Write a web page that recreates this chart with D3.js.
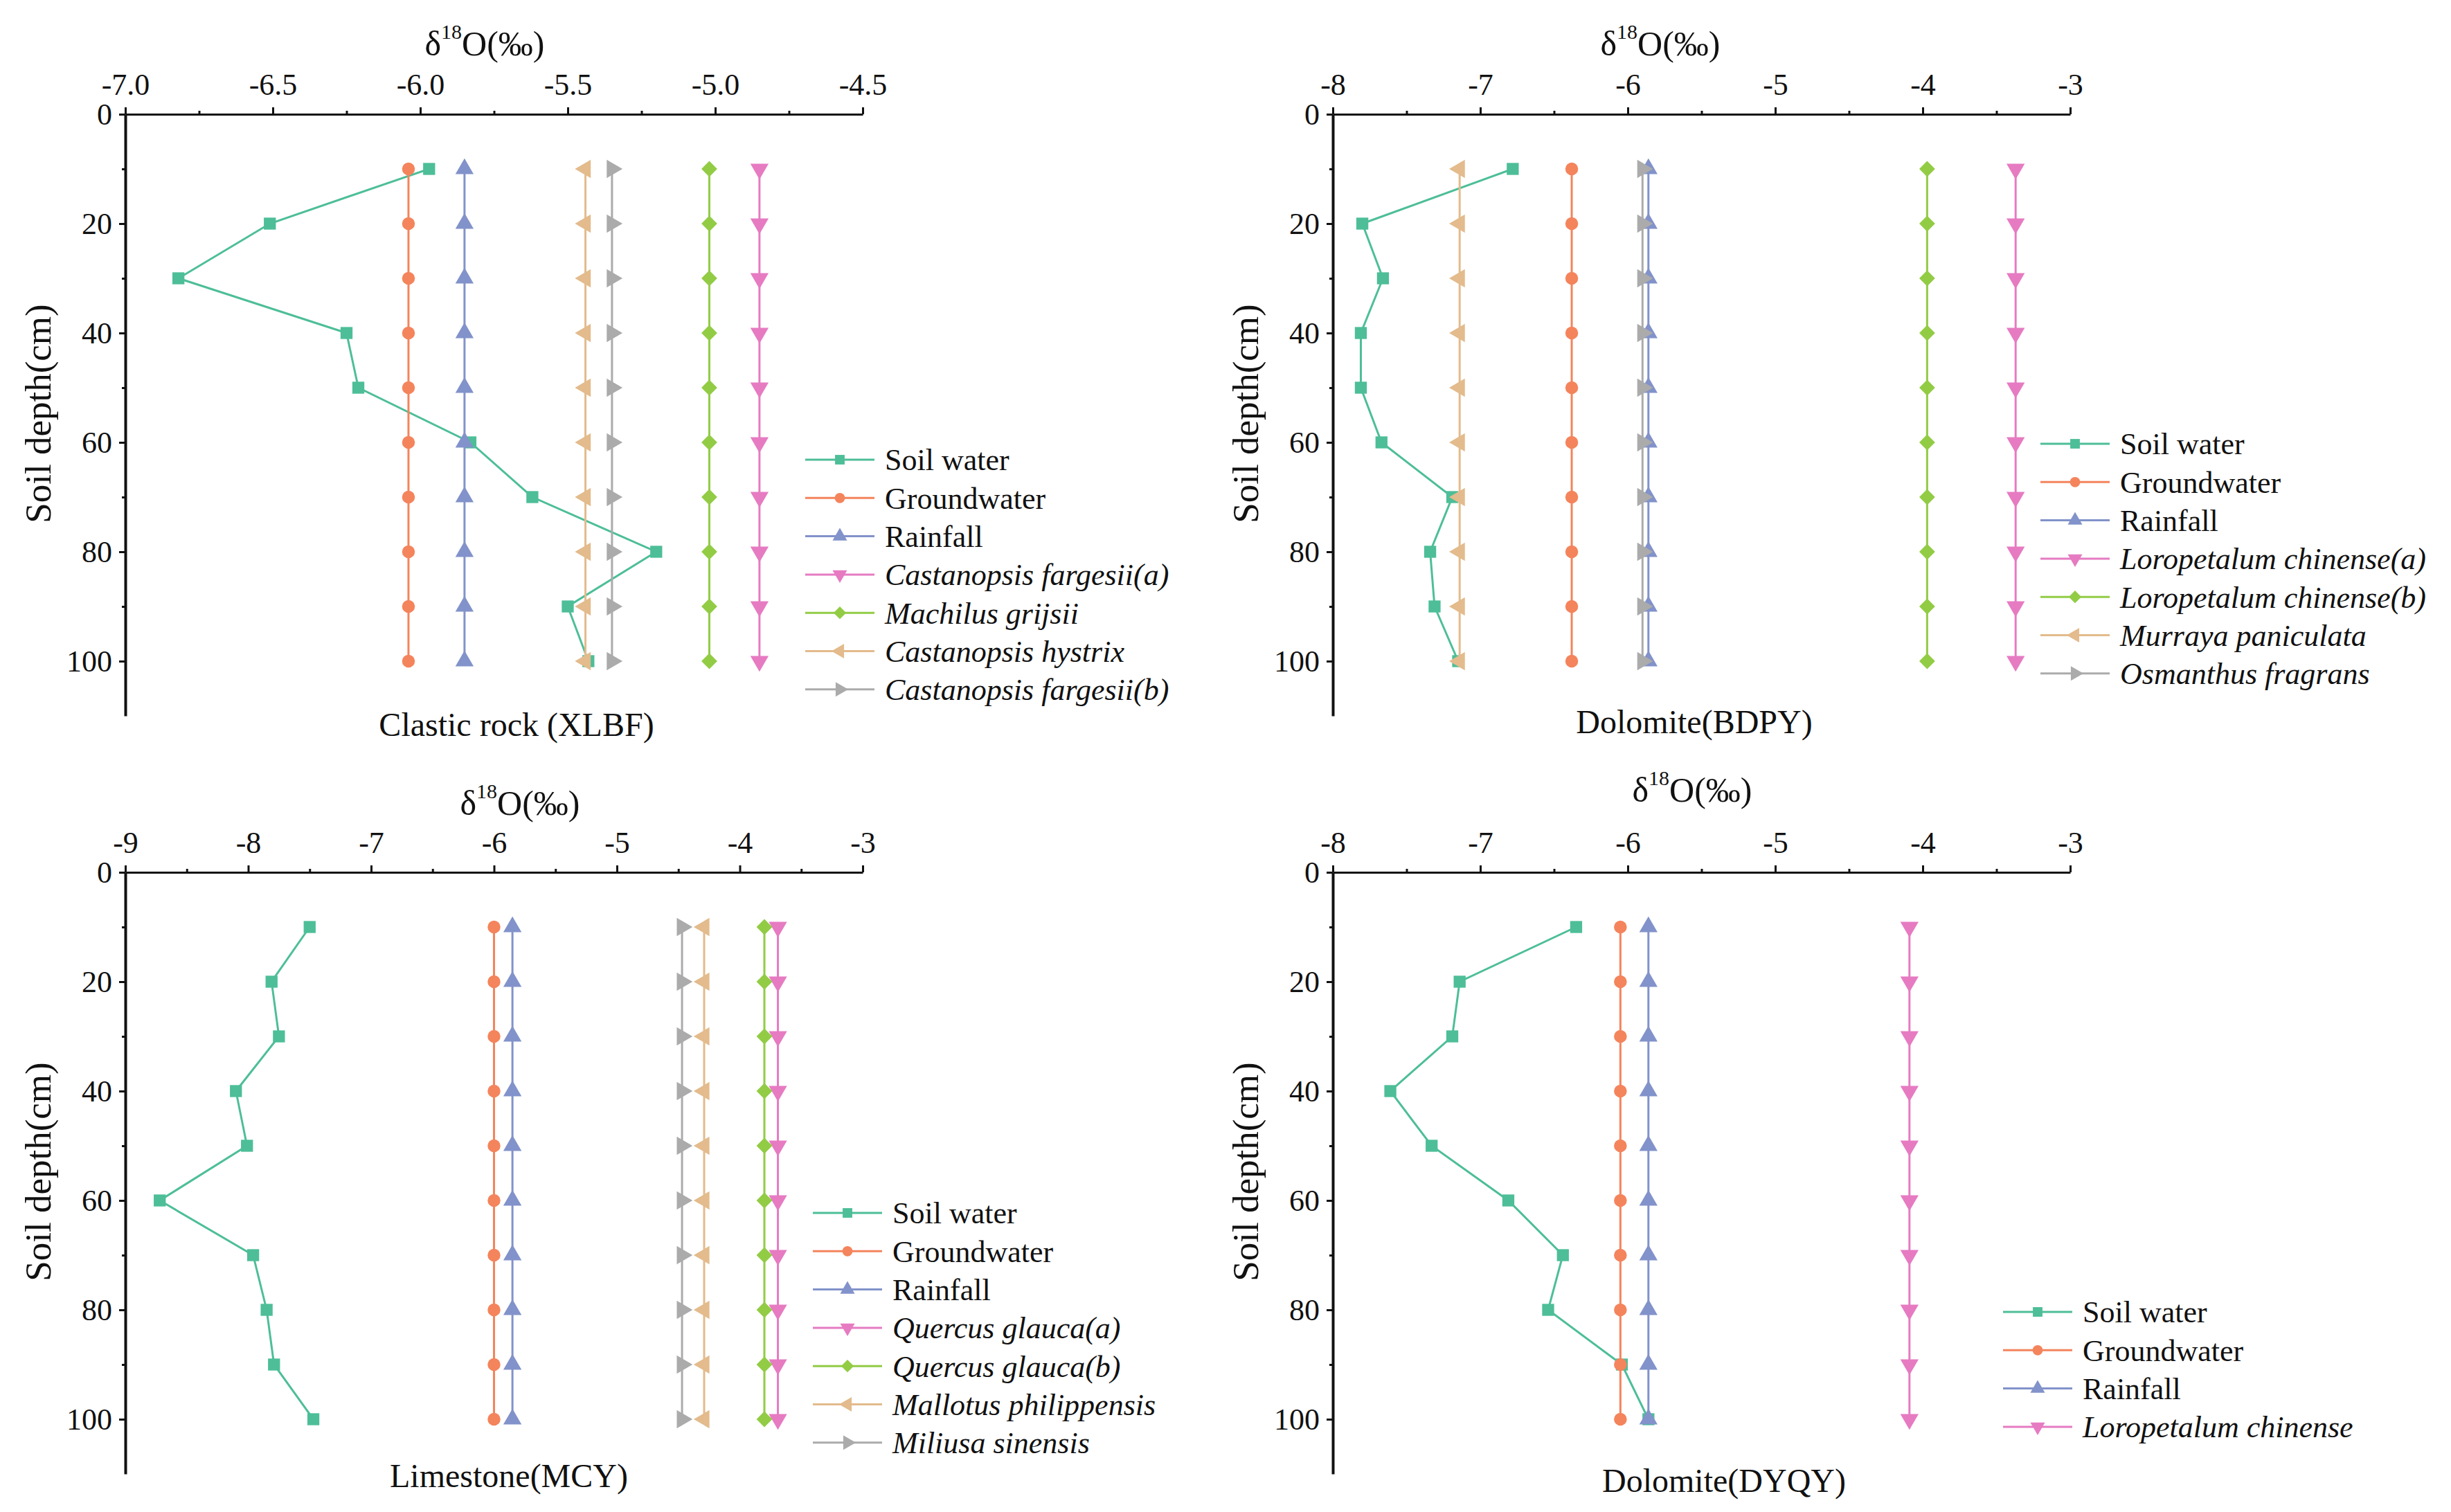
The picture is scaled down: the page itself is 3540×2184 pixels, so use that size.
<!DOCTYPE html>
<html>
<head>
<meta charset="utf-8">
<script src="https://cdn.jsdelivr.net/npm/d3@7"></script>
<style>
  body { margin: 0; background: #fff; }
  svg { display: block; font-family: "Liberation Serif", "Times New Roman", serif; }
  svg text { font-family: "Liberation Serif", "Times New Roman", serif; }
</style>
</head>
<body>
<div id="chart"></div>
<script>
// depths sampled (cm)
const depths = [10, 20, 30, 40, 50, 60, 70, 80, 90, 100];
const commonNames = ["Soil water", "Groundwater", "Rainfall"];

// Clastic rock (XLBF)
const xlbfSpecies = ["Castanopsis fargesii(a)", "Machilus grijsii", "Castanopsis hystrix", "Castanopsis fargesii(b)"];
const xlbfSoil   = [-5.97, -6.51, -6.82, -6.25, -6.21, -5.83, -5.62, -5.20, -5.50, -5.43];
const xlbfGround = [-6.04, -6.04, -6.04, -6.04, -6.04, -6.04, -6.04, -6.04, -6.04, -6.04];
const xlbfRain   = [-5.85, -5.85, -5.85, -5.85, -5.85, -5.85, -5.85, -5.85, -5.85, -5.85];
const xlbfCfa    = [-4.85, -4.85, -4.85, -4.85, -4.85, -4.85, -4.85, -4.85, -4.85, -4.85];
const xlbfMg     = [-5.02, -5.02, -5.02, -5.02, -5.02, -5.02, -5.02, -5.02, -5.02, -5.02];
const xlbfCh     = [-5.44, -5.44, -5.44, -5.44, -5.44, -5.44, -5.44, -5.44, -5.44, -5.44];
const xlbfCfb    = [-5.35, -5.35, -5.35, -5.35, -5.35, -5.35, -5.35, -5.35, -5.35, -5.35];

// Dolomite (BDPY)
const bdpySpecies = ["Loropetalum chinense(a)", "Loropetalum chinense(b)", "Murraya paniculata", "Osmanthus fragrans"];
const bdpySoil   = [-6.78, -7.80, -7.66, -7.81, -7.81, -7.67, -7.19, -7.34, -7.31, -7.15];
const bdpyGround = [-6.38, -6.38, -6.38, -6.38, -6.38, -6.38, -6.38, -6.38, -6.38, -6.38];
const bdpyRain   = [-5.86, -5.86, -5.86, -5.86, -5.86, -5.86, -5.86, -5.86, -5.86, -5.86];
const bdpyLca    = [-3.37, -3.37, -3.37, -3.37, -3.37, -3.37, -3.37, -3.37, -3.37, -3.37];
const bdpyLcb    = [-3.97, -3.97, -3.97, -3.97, -3.97, -3.97, -3.97, -3.97, -3.97, -3.97];
const bdpyMp     = [-7.14, -7.14, -7.14, -7.14, -7.14, -7.14, -7.14, -7.14, -7.14, -7.14];
const bdpyOf     = [-5.90, -5.90, -5.90, -5.90, -5.90, -5.90, -5.90, -5.90, -5.90, -5.90];

// Limestone (MCY)
const mcySpecies = ["Quercus glauca(a)", "Quercus glauca(b)", "Mallotus philippensis", "Miliusa sinensis"];
const mcySoil   = [-7.50, -7.81, -7.75, -8.10, -8.01, -8.72, -7.96, -7.85, -7.79, -7.47];
const mcyGround = [-6.00, -6.00, -6.00, -6.00, -6.00, -6.00, -6.00, -6.00, -6.00, -6.00];
const mcyRain   = [-5.85, -5.85, -5.85, -5.85, -5.85, -5.85, -5.85, -5.85, -5.85, -5.85];
const mcyQga    = [-3.69, -3.69, -3.69, -3.69, -3.69, -3.69, -3.69, -3.69, -3.69, -3.69];
const mcyQgb    = [-3.80, -3.80, -3.80, -3.80, -3.80, -3.80, -3.80, -3.80, -3.80, -3.80];
const mcyMph    = [-4.29, -4.29, -4.29, -4.29, -4.29, -4.29, -4.29, -4.29, -4.29, -4.29];
const mcyMs     = [-4.47, -4.47, -4.47, -4.47, -4.47, -4.47, -4.47, -4.47, -4.47, -4.47];

// Dolomite (DYQY)
const dyqySpecies = ["Loropetalum chinense"];
const dyqySoil   = [-6.35, -7.14, -7.19, -7.61, -7.33, -6.81, -6.44, -6.54, -6.04, -5.86];
const dyqyGround = [-6.05, -6.05, -6.05, -6.05, -6.05, -6.05, -6.05, -6.05, -6.05, -6.05];
const dyqyRain   = [-5.86, -5.86, -5.86, -5.86, -5.86, -5.86, -5.86, -5.86, -5.86, -5.86];
const dyqyLc     = [-4.09, -4.09, -4.09, -4.09, -4.09, -4.09, -4.09, -4.09, -4.09, -4.09];

// axis ticks
const ticksXlbf = [-7.0, -6.5, -6.0, -5.5, -5.0, -4.5];
const minorXlbf = [-6.75, -6.25, -5.75, -5.25, -4.75];
const ticks9to3 = [-9, -8, -7, -6, -5, -4, -3];
const minor9to3 = [-8.5, -7.5, -6.5, -5.5, -4.5, -3.5];
const ticks8to3 = [-8, -7, -6, -5, -4, -3];
const minor8to3 = [-7.5, -6.5, -5.5, -4.5, -3.5];
const depthTicks = [0, 20, 40, 60, 80, 100];
const depthMinor = [10, 30, 50, 70, 90];

// style per series position
const styles = [
  { color: "#4dbe98", shape: "square" },
  { color: "#f4845c", shape: "circle" },
  { color: "#8292ca", shape: "up" },
  { color: "#e67bc2", shape: "down" },
  { color: "#92cc45", shape: "diamond" },
  { color: "#e3bb8c", shape: "left" },
  { color: "#ababab", shape: "right" }
];

const FONT = '"Liberation Serif", "Times New Roman", serif';

const dimension = {
  width: 3540,
  height: 2184,
  plotWidth: 1065,
  plotHeight: 869
};

const panels = [
  { x0: 181, y0: 165, domain: [-7, -4.5], major: ticksXlbf, minor: minorXlbf, fmt: d => d.toFixed(1),
    names: commonNames.concat(xlbfSpecies), values: [xlbfSoil, xlbfGround, xlbfRain, xlbfCfa, xlbfMg, xlbfCh, xlbfCfb],
    title: "Clastic rock (XLBF)", titleX: 565, titleY: 898, topX: 519, topY: -85,
    legX: 982, legY: 499 },
  { x0: 1925, y0: 165, domain: [-8, -3], major: ticks8to3, minor: minor8to3, fmt: d => String(d),
    names: commonNames.concat(bdpySpecies), values: [bdpySoil, bdpyGround, bdpyRain, bdpyLca, bdpyLcb, bdpyMp, bdpyOf],
    title: "Dolomite(BDPY)", titleX: 522, titleY: 894, topX: 473, topY: -85,
    legX: 1022, legY: 476 },
  { x0: 181, y0: 1260, domain: [-9, -3], major: ticks9to3, minor: minor9to3, fmt: d => String(d),
    names: commonNames.concat(mcySpecies), values: [mcySoil, mcyGround, mcyRain, mcyQga, mcyQgb, mcyMph, mcyMs],
    title: "Limestone(MCY)", titleX: 554, titleY: 888, topX: 570, topY: -83,
    legX: 993, legY: 492 },
  { x0: 1925, y0: 1260, domain: [-8, -3], major: ticks8to3, minor: minor8to3, fmt: d => String(d),
    names: commonNames.concat(dyqySpecies), values: [dyqySoil, dyqyGround, dyqyRain, dyqyLc],
    title: "Dolomite(DYQY)", titleX: 565, titleY: 895, topX: 519, topY: -102,
    legX: 968, legY: 635 }
];

const svg = d3.select("#chart").append("svg")
  .attr("width", dimension.width)
  .attr("height", dimension.height)
  .attr("font-family", FONT);

function symbolPath(shape, scale) {
  const k = scale || 1;
  if (shape == "square") return { d: d3.symbol(d3.symbolSquare, 300 * k * k)(), rot: 0 };
  if (shape == "circle") return { d: d3.symbol(d3.symbolCircle, 270 * k * k)(), rot: 0 };
  if (shape == "diamond") return { d: d3.symbol(d3.symbolSquare, 260 * k * k)(), rot: 45 };
  const rot = { up: 0, down: 180, left: -90, right: 90 }[shape];
  return { d: d3.symbol(d3.symbolTriangle, 300 * k * k)(), rot: rot };
}

function styleAxis(sel, width) {
  sel.attr("font-family", FONT).attr("font-size", 44).attr("fill", "#111");
  sel.select(".domain").attr("stroke", "#111").attr("stroke-width", width);
  sel.selectAll(".tick line").attr("stroke", "#111").attr("stroke-width", 3);
  sel.selectAll(".tick text").attr("fill", "#111").attr("font-family", FONT);
}

function drawPanel(p) {
  const g = svg.append("g").attr("transform", `translate(${p.x0},${p.y0})`);

  const xScaler = d3.scaleLinear().domain(p.domain).range([0, dimension.plotWidth]);
  const yScaler = d3.scaleLinear().domain([0, 110]).range([0, dimension.plotHeight]);

  // series, first drawn first
  p.values.forEach((vals, i) => {
    const st = styles[i];
    const pts = depths.map((dep, j) => ({ depth: dep, v: vals[j] }));
    const line = d3.line().x(d => xScaler(d.v)).y(d => yScaler(d.depth));
    g.append("path")
      .datum(pts)
      .attr("d", line)
      .attr("fill", "none")
      .attr("stroke", st.color)
      .attr("stroke-width", 3);
    const sym = symbolPath(st.shape);
    g.append("g").selectAll("path")
      .data(pts)
      .join("path")
      .attr("d", sym.d)
      .attr("transform", d => `translate(${xScaler(d.v)},${yScaler(d.depth)}) rotate(${sym.rot})`)
      .attr("fill", st.color);
  });

  // axes
  g.append("g")
    .call(d3.axisTop(xScaler).tickValues(p.minor).tickSize(5).tickSizeOuter(0).tickFormat(""))
    .call(s => { styleAxis(s, 3); s.select(".domain").remove(); });
  g.append("g")
    .call(d3.axisTop(xScaler).tickValues(p.major).tickSize(10).tickSizeOuter(0).tickPadding(18).tickFormat(p.fmt))
    .call(s => styleAxis(s, 3));

  g.append("g")
    .call(d3.axisLeft(yScaler).tickValues(depthMinor).tickSize(5).tickSizeOuter(0).tickFormat(""))
    .call(s => { styleAxis(s, 4); s.select(".domain").remove(); });
  g.append("g")
    .call(d3.axisLeft(yScaler).tickValues(depthTicks).tickSize(9).tickSizeOuter(0).tickPadding(10).tickFormat(d => String(d)))
    .call(s => styleAxis(s, 4));

  // top title δ18O(‰)
  const t = g.append("text")
    .attr("x", p.topX)
    .attr("y", p.topY)
    .attr("text-anchor", "middle")
    .attr("font-family", FONT)
    .attr("font-size", 50)
    .attr("fill", "#111");
  t.append("tspan").text("δ");
  t.append("tspan").attr("font-size", 30).attr("dy", -24).text("18");
  t.append("tspan").attr("dy", 24).text("O(‰)");

  // y title
  g.append("text")
    .attr("transform", `translate(-127,${dimension.plotHeight / 2 - 2}) rotate(-90)`)
    .attr("text-anchor", "middle")
    .attr("dy", "0.35em")
    .attr("font-family", FONT)
    .attr("font-size", 53)
    .attr("fill", "#111")
    .text("Soil depth(cm)");

  // bottom title
  g.append("text")
    .attr("x", p.titleX)
    .attr("y", p.titleY)
    .attr("text-anchor", "middle")
    .attr("font-family", FONT)
    .attr("font-size", 48)
    .attr("fill", "#111")
    .text(p.title);

  // legend
  const leg = g.append("g").attr("transform", `translate(${p.legX},${p.legY})`);
  p.names.forEach((name, i) => {
    const st = styles[i];
    const row = leg.append("g").attr("transform", `translate(0,${i * 55.3})`);
    row.append("line")
      .attr("x1", 0).attr("x2", 100)
      .attr("stroke", st.color)
      .attr("stroke-width", 3);
    const sym = symbolPath(st.shape, 0.8);
    row.append("path")
      .attr("d", sym.d)
      .attr("transform", `translate(50,0) rotate(${sym.rot})`)
      .attr("fill", st.color);
    row.append("text")
      .attr("x", 115)
      .attr("dy", "0.35em")
      .attr("font-family", FONT)
      .attr("font-size", 44)
      .attr("font-style", i > 2 ? "italic" : "normal")
      .attr("fill", "#111")
      .text(name);
  });
}

panels.forEach(drawPanel);
</script>
</body>
</html>
